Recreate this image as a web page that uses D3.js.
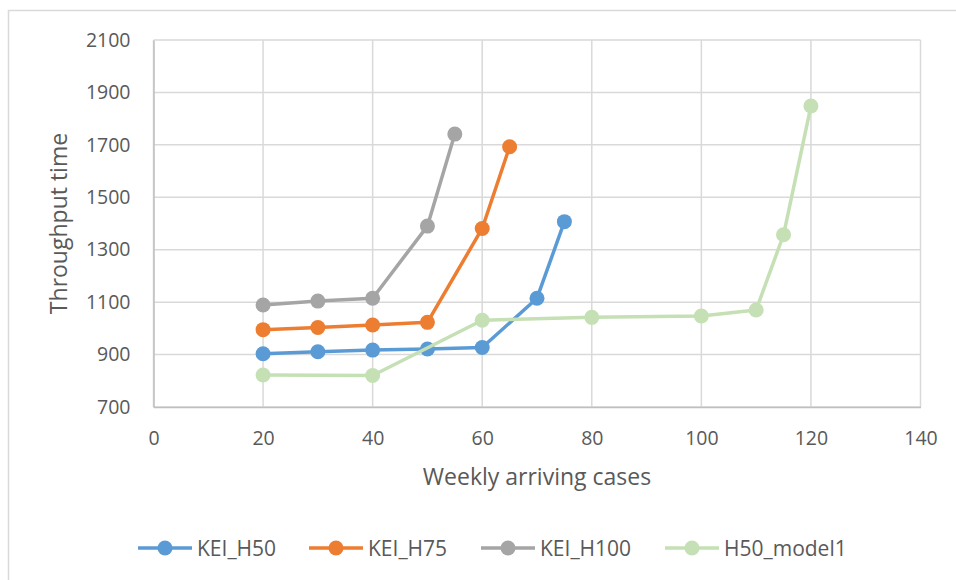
<!DOCTYPE html>
<html>
<head>
<meta charset="utf-8">
<script src="https://cdn.jsdelivr.net/npm/d3@7"></script>
<style>
  html, body { margin: 0; padding: 0; background: #fff; }
  svg { display: block; font-family: "Open Sans", "Noto Sans", sans-serif; }
</style>
</head>
<body>
<svg id="chart" width="956" height="580"></svg>
<script>
// Throughput time versus weekly arriving cases, four configurations
const xTicks = [0, 20, 40, 60, 80, 100, 120, 140];
const yTicks = [700, 900, 1100, 1300, 1500, 1700, 1900, 2100];

const keiH50X = [20, 30, 40, 50, 60, 70, 75];
const keiH50Y = [903, 911, 917, 921, 927, 1115, 1407];

const keiH75X = [20, 30, 40, 50, 60, 65];
const keiH75Y = [995, 1003, 1013, 1023, 1381, 1693];

const keiH100X = [20, 30, 40, 50, 55];
const keiH100Y = [1089, 1104, 1115, 1390, 1741];

const h50Model1X = [20, 40, 60, 80, 100, 110, 115, 120];
const h50Model1Y = [822, 820, 1031, 1042, 1047, 1070, 1357, 1848];

const seriesNames = ["KEI_H50", "KEI_H75", "KEI_H100", "H50_model1"];
const seriesColors = ["#5B9BD5", "#ED7D31", "#A5A5A5", "#C5E0B4"];
const seriesX = [keiH50X, keiH75X, keiH100X, h50Model1X];
const seriesY = [keiH50Y, keiH75Y, keiH100Y, h50Model1Y];

const series = seriesNames.map((name, i) => ({
  name,
  color: seriesColors[i],
  points: seriesX[i].map((x, j) => ({ x, y: seriesY[i][j] }))
}));

const svg = d3.select("#chart");

// outer chart frame
svg.append("rect")
  .attr("x", 8.5).attr("y", 10.5)
  .attr("width", 960).attr("height", 600)
  .attr("fill", "none").attr("stroke", "#D9D9D9").attr("stroke-width", 1.5);

const plot = { left: 153.5, right: 920.5, top: 40, bottom: 407 };

const x = d3.scaleLinear().domain([0, 140]).range([plot.left, plot.right]);
const y = d3.scaleLinear().domain([700, 2100]).range([plot.bottom, plot.top]);

// gridlines
const grid = svg.append("g");
grid.selectAll("line.h").data(yTicks).join("line")
  .attr("x1", plot.left).attr("x2", plot.right)
  .attr("y1", d => y(d)).attr("y2", d => y(d))
  .attr("stroke", "#D9D9D9").attr("stroke-width", 1.5);
grid.selectAll("line.v").data(xTicks).join("line")
  .attr("y1", plot.top).attr("y2", plot.bottom)
  .attr("x1", d => x(d)).attr("x2", d => x(d))
  .attr("stroke", "#D9D9D9").attr("stroke-width", 1.5);

// axes
const xAxis = d3.axisBottom(x).tickValues(xTicks).tickFormat(d3.format("d")).tickSize(0).tickPadding(24);
const yAxis = d3.axisLeft(y).tickValues(yTicks).tickFormat(d3.format("d")).tickSize(0).tickPadding(23);

const gx = svg.append("g").attr("transform", `translate(0,${plot.bottom})`).call(xAxis);
const gy = svg.append("g").attr("transform", `translate(${plot.left},0)`).call(yAxis);
[gx, gy].forEach(g => {
  g.select(".domain").attr("stroke", "#BFBFBF").attr("stroke-width", 1.5);
  g.selectAll("text").attr("fill", "#595959").style("font-size", "19.5px")
    .style("font-family", "'Open Sans', sans-serif");
});

// axis titles
svg.append("text")
  .attr("x", (plot.left + plot.right) / 2).attr("y", 485)
  .attr("text-anchor", "middle").attr("fill", "#595959")
  .style("font-size", "23px").text("Weekly arriving cases");
svg.append("text")
  .attr("transform", `translate(67,${(plot.top + plot.bottom) / 2}) rotate(-90)`)
  .attr("text-anchor", "middle").attr("fill", "#595959")
  .style("font-size", "23px").text("Throughput time");

// series lines and markers
const line = d3.line().x(d => x(d.x)).y(d => y(d.y));
const gs = svg.append("g").selectAll("g").data(series).join("g");
gs.append("path")
  .attr("d", d => line(d.points))
  .attr("fill", "none").attr("stroke", d => d.color)
  .attr("stroke-width", 3.5).attr("stroke-linejoin", "round");
gs.selectAll("circle").data(d => d.points.map(p => ({ ...p, color: d.color }))).join("circle")
  .attr("cx", d => x(d.x)).attr("cy", d => y(d.y)).attr("r", 7.5)
  .attr("fill", d => d.color);

// legend
const legendX = [165, 336, 508, 692];
const legendY = 548;
const lg = svg.append("g").selectAll("g").data(series).join("g")
  .attr("transform", (d, i) => `translate(${legendX[i]},${legendY})`);
lg.append("line")
  .attr("x1", -27).attr("x2", 27)
  .attr("stroke", d => d.color).attr("stroke-width", 3.5);
lg.append("circle").attr("r", 7.5).attr("fill", d => d.color);
lg.append("text")
  .attr("x", 32).attr("y", 7.5)
  .attr("fill", "#595959").style("font-size", "21px")
  .text(d => d.name);
</script>
</body>
</html>
